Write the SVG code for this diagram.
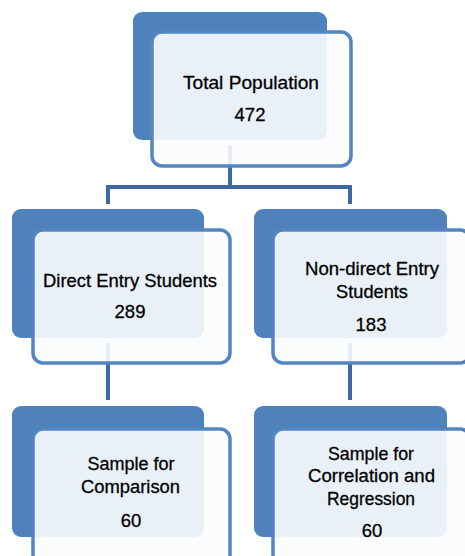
<svg xmlns="http://www.w3.org/2000/svg" width="465" height="556" viewBox="0 0 465 556">
<style>
.back{fill:#4f81bd}
.front{fill:#fbfcfe;fill-opacity:0.9;stroke:#5585c0;stroke-width:3.5}
.conn{stroke:#3d6aa5;stroke-width:4;fill:none}
text{font-family:"Liberation Sans",Arial,sans-serif;font-size:18.5px;fill:#000;stroke:#000;stroke-width:0.3;text-anchor:middle}
</style>
<rect width="465" height="556" fill="#fff"/>
<g id="connectors">
<path class="conn" d="M230 145 V187 M108 204 V187 H350 V204"/>
<path class="conn" d="M108 343 V400 M350 343 V400"/>
</g>
<g id="total">
<rect class="back" x="133" y="12" width="194" height="128" rx="9"/>
<rect class="front" x="152" y="32" width="199" height="134" rx="10"/>
<text x="251" y="89" textLength="136" lengthAdjust="spacingAndGlyphs">Total Population</text>
<text x="250" y="121">472</text>
</g>
<g id="direct">
<rect class="back" x="12" y="209" width="192" height="129" rx="9"/>
<rect class="front" x="33" y="230" width="197" height="133" rx="10"/>
<text x="130" y="287" textLength="174" lengthAdjust="spacingAndGlyphs">Direct Entry Students</text>
<text x="130" y="318">289</text>
</g>
<g id="nondirect">
<rect class="back" x="254" y="209" width="193" height="129" rx="9"/>
<rect class="front" x="273" y="230" width="197" height="133" rx="10"/>
<text x="372" y="275" textLength="134" lengthAdjust="spacingAndGlyphs">Non-direct Entry</text>
<text x="372" y="298" textLength="72" lengthAdjust="spacingAndGlyphs">Students</text>
<text x="371" y="331">183</text>
</g>
<g id="comparison">
<rect class="back" x="12" y="406" width="192" height="131" rx="9"/>
<rect class="front" x="33" y="429" width="197" height="136" rx="10"/>
<text x="131" y="470" textLength="87" lengthAdjust="spacingAndGlyphs">Sample for</text>
<text x="130.5" y="493" textLength="99" lengthAdjust="spacingAndGlyphs">Comparison</text>
<text x="131" y="527">60</text>
</g>
<g id="correlation">
<rect class="back" x="254" y="406" width="193" height="131" rx="9"/>
<rect class="front" x="273" y="429" width="197" height="136" rx="10"/>
<text x="371" y="460" textLength="86" lengthAdjust="spacingAndGlyphs">Sample for</text>
<text x="371.5" y="482" textLength="127" lengthAdjust="spacingAndGlyphs">Correlation and</text>
<text x="371" y="505" textLength="88" lengthAdjust="spacingAndGlyphs">Regression</text>
<text x="372" y="537">60</text>
</g>
</svg>
